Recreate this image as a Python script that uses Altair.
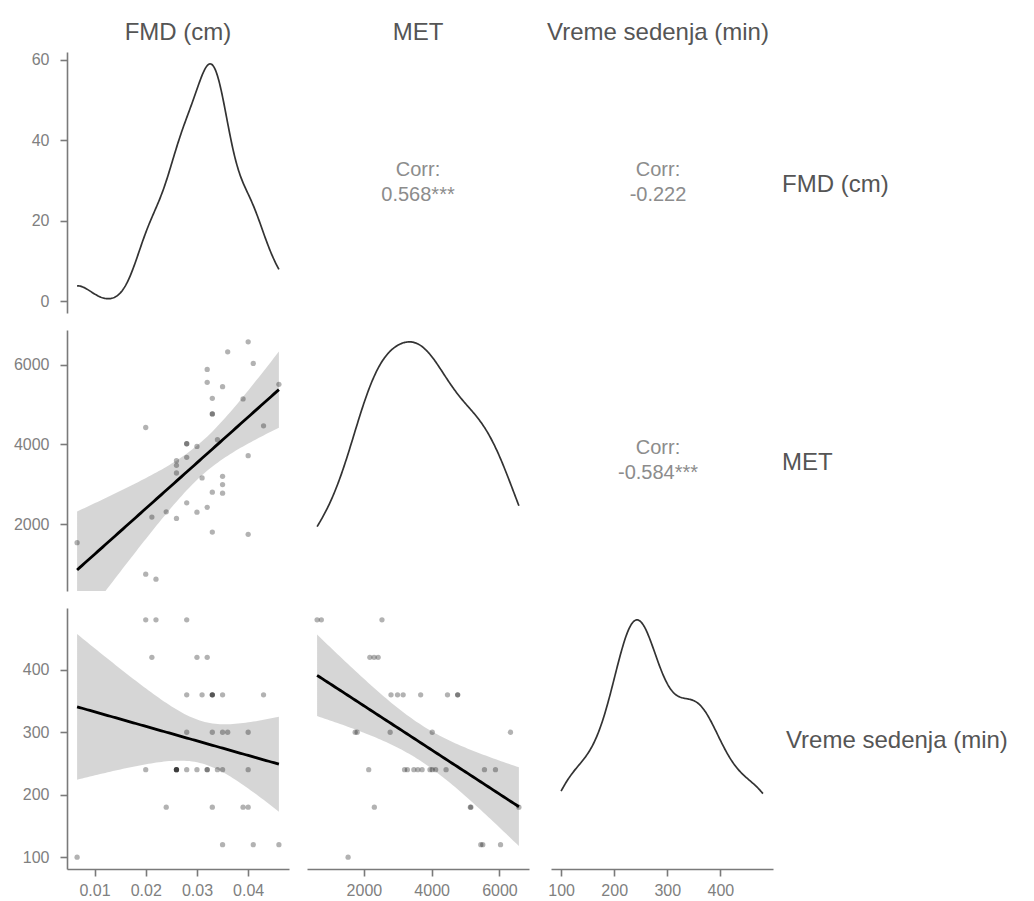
import altair as alt
import numpy as np
import pandas as pd

fmd = [0.0066, 0.020, 0.020, 0.0212, 0.022, 0.024, 0.026, 0.026, 0.026, 0.026,
       0.028, 0.028, 0.028, 0.028, 0.030, 0.030, 0.031, 0.032, 0.032, 0.032,
       0.033, 0.033, 0.033, 0.033, 0.033, 0.034, 0.035, 0.035, 0.035, 0.035,
       0.036, 0.039, 0.040, 0.040, 0.040, 0.041, 0.043, 0.046]
met = [1533, 4425, 743, 2175, 618, 2308, 2142, 3592, 3475, 3283,
       4017, 4017, 3675, 2533, 3950, 2300, 3158, 5883, 5558, 2420,
       5158, 4767, 4767, 2800, 1800, 4117, 5450, 3200, 2992, 2775,
       6325, 5142, 6575, 3717, 1742, 6033, 4467, 5508]
sit = [100, 240, 480, 420, 480, 180, 240, 240, 240, 240,
       240, 300, 360, 480, 240, 420, 360, 240, 240, 420,
       180, 360, 360, 360, 300, 240, 120, 240, 360, 300,
       300, 180, 180, 240, 300, 120, 360, 120]

names = ["FMD (cm)", "MET", "Vreme sedenja (min)"]
var_ticks = [[0.01, 0.02, 0.03, 0.04], [2000, 4000, 6000], [100, 200, 300, 400]]
var_formats = [".2f", "d", "d"]
density_ticks = [0, 20, 40, 60]
corr_pairs = [(0, 1), (0, 2), (1, 2)]
corr_values = ["0.568***", "-0.222", "-0.584***"]

vars_ = [fmd, met, sit]
corr_text = dict(zip(corr_pairs, corr_values))

W, H = 222, 261
FONT = "Liberation Sans"
T975 = 2.028  # Student t quantile, df = n - 2

TITLE_COLOR = "#555555"
TITLE_SIZE = 24


def padded(v):
    lo, hi = min(v), max(v)
    p = 0.05 * (hi - lo)
    return [lo - p, hi + p]


def kde(v, n=256):
    a = np.asarray(v, dtype=float)
    sd = a.std(ddof=1)
    q75, q25 = np.percentile(a, [75, 25])
    bw = 0.9 * min(sd, (q75 - q25) / 1.34) * len(a) ** -0.2
    xs = np.linspace(a.min(), a.max(), n)
    d = np.exp(-0.5 * ((xs[:, None] - a[None, :]) / bw) ** 2).sum(1) / (len(a) * bw * np.sqrt(2 * np.pi))
    return pd.DataFrame({"x": xs, "d": d})


def fit_band(x, y, n=80):
    x = np.asarray(x, float)
    y = np.asarray(y, float)
    xb, yb = x.mean(), y.mean()
    sxx = ((x - xb) ** 2).sum()
    b1 = ((x - xb) * (y - yb)).sum() / sxx
    b0 = yb - b1 * xb
    res = y - (b0 + b1 * x)
    s = np.sqrt((res ** 2).sum() / (len(x) - 2))
    xs = np.linspace(x.min(), x.max(), n)
    fit = b0 + b1 * xs
    se = s * np.sqrt(1 / len(x) + (xs - xb) ** 2 / sxx)
    return pd.DataFrame({"x": xs, "fit": fit, "lo": fit - T975 * se, "hi": fit + T975 * se})


def x_axis(j):
    return alt.Axis(values=var_ticks[j], format=var_formats[j], title=None, grid=False,
                    tickSize=7, labelPadding=6)


def y_axis(vals, fmt):
    return alt.Axis(values=vals, format=fmt, title=None, grid=False, tickSize=7,
                    labelPadding=11, minExtent=62, maxExtent=62)


def row_label(i):
    return alt.Chart(pd.DataFrame({"t": [names[i]]})).mark_text(
        align="left", baseline="middle", font=FONT, fontSize=TITLE_SIZE, color=TITLE_COLOR
    ).encode(x=alt.value(W + 13), y=alt.value(H / 2 + 2), text="t:N")


def scatter(i, j):
    xv, yv = vars_[j], vars_[i]
    pts = pd.DataFrame({"x": xv, "y": yv})
    fb = fit_band(xv, yv)
    xs = alt.Scale(domain=padded(xv), nice=False, zero=False)
    ys = alt.Scale(domain=padded(yv), nice=False, zero=False)
    xax = x_axis(j) if i == 2 else None
    yax = y_axis(var_ticks[i], var_formats[i]) if j == 0 else None
    band = alt.Chart(fb).mark_area(color="#999999", opacity=0.4, clip=True).encode(
        x=alt.X("x:Q", scale=xs, axis=xax),
        y=alt.Y("lo:Q", scale=ys, axis=yax),
        y2="hi:Q")
    dots = alt.Chart(pts).mark_circle(color="black", opacity=0.3, size=28).encode(
        x=alt.X("x:Q", scale=xs, axis=xax),
        y=alt.Y("y:Q", scale=ys, axis=yax))
    line = alt.Chart(fb).mark_line(color="black", strokeWidth=2.8, clip=True).encode(
        x=alt.X("x:Q", scale=xs, axis=xax),
        y=alt.Y("fit:Q", scale=ys, axis=yax))
    return alt.layer(band, dots, line).properties(width=W, height=H)


def diag(i):
    d = kde(vars_[i])
    m = d["d"].max()
    xs = alt.Scale(domain=padded(vars_[i]), nice=False, zero=False)
    ys = alt.Scale(domain=[-0.05 * m, 1.05 * m], nice=False, zero=False)
    xax = x_axis(i) if i == 2 else None
    yax = y_axis(density_ticks, "d") if i == 0 else None
    line = alt.Chart(d).mark_line(color="#333333", strokeWidth=1.7).encode(
        x=alt.X("x:Q", scale=xs, axis=xax),
        y=alt.Y("d:Q", scale=ys, axis=yax))
    layers = [line]
    if i == 2:
        layers.append(row_label(i))
    return alt.layer(*layers).properties(width=W, height=H)


def upper(i, j):
    base = dict(align="center", baseline="middle", font=FONT, fontSize=20, color="#8c8c8c")
    t1 = alt.Chart(pd.DataFrame({"t": ["Corr:"]})).mark_text(**base).encode(
        x=alt.value(W / 2), y=alt.value(H / 2 - 13), text="t:N")
    t2 = alt.Chart(pd.DataFrame({"t": [corr_text[(i, j)]]})).mark_text(**base).encode(
        x=alt.value(W / 2), y=alt.value(H / 2 + 12), text="t:N")
    layers = [t1, t2]
    if j == 2:
        layers.append(row_label(i))
    return alt.layer(*layers).properties(width=W, height=H)


rows = []
for i in range(3):
    cells = []
    for j in range(3):
        if i == j:
            c = diag(i)
        elif i > j:
            c = scatter(i, j)
        else:
            c = upper(i, j)
        if i == 0:
            c = c.properties(title=alt.TitleParams(names[j], fontSize=TITLE_SIZE, font=FONT,
                                                   color=TITLE_COLOR, fontWeight="normal",
                                                   anchor="middle", offset=7))
        cells.append(c)
    rows.append(alt.hconcat(*cells, spacing=18))

chart = alt.vconcat(*rows, spacing=17).configure_view(stroke=None).configure_axis(
    domainColor="#7a7a7a", tickColor="#7a7a7a", domainWidth=1.6, tickWidth=1.6,
    labelColor="#808080", labelFont=FONT, labelFontSize=16
).properties(background="white", padding={"left": 5, "top": 20, "right": 5, "bottom": 5})

chart.save("out.html", embed_options={"renderer": "svg", "actions": False})
